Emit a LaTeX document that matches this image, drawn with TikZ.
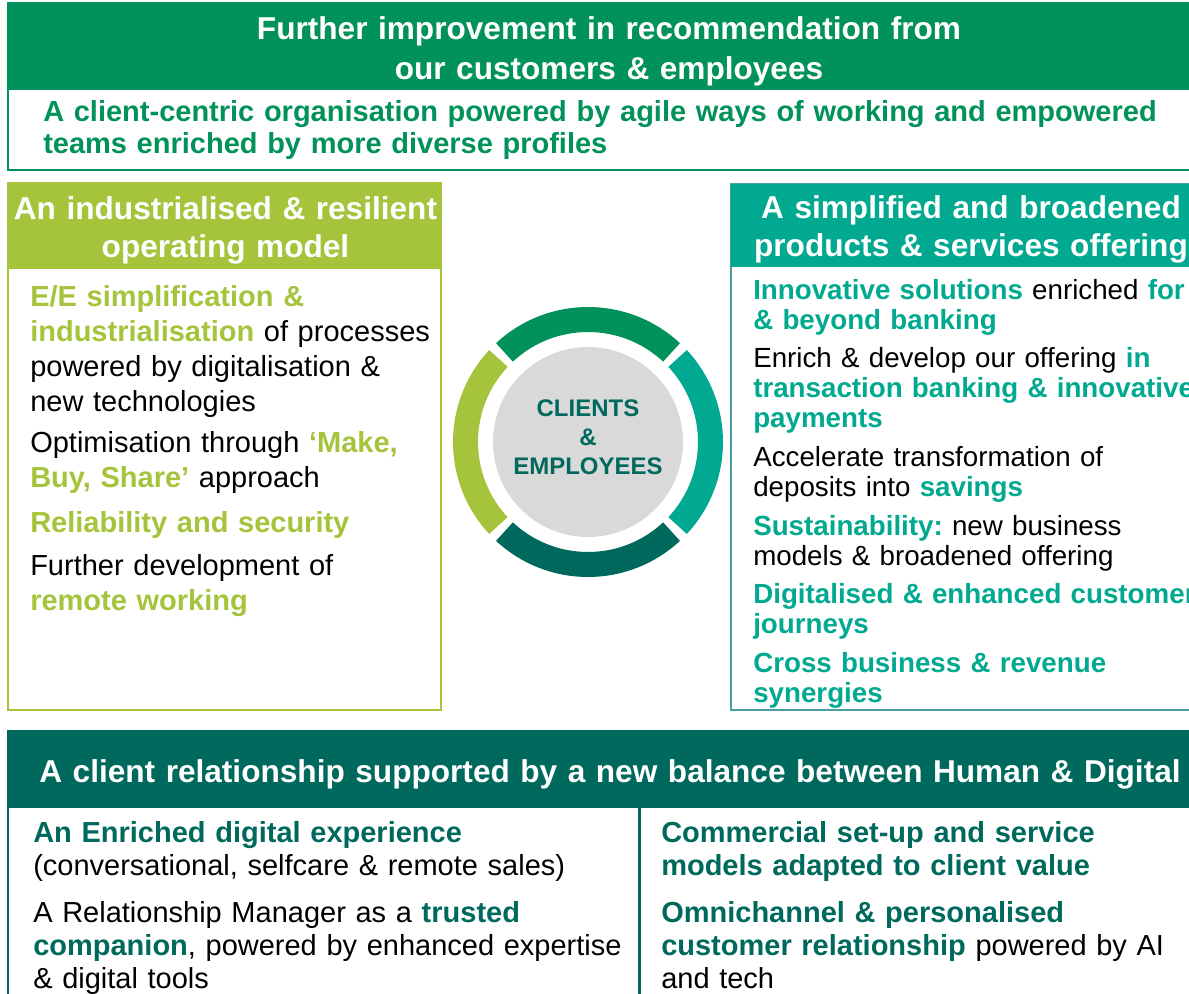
\documentclass[tikz,border=0pt]{standalone}
\usepackage{fontspec}
\setmainfont{Liberation Sans}
\frenchspacing
\definecolor{topgreen}{HTML}{00925A}
\definecolor{limegreen}{HTML}{A5C33B}
\definecolor{offerteal}{HTML}{00A98F}
\definecolor{darkteal}{HTML}{00695D}
\definecolor{frameteal}{HTML}{4A9DA3}
\definecolor{coregrey}{HTML}{D9D9D9}
\newcommand{\limebf}[1]{\textbf{\color{limegreen}#1}}
\newcommand{\tealbf}[1]{\textbf{\color{offerteal}#1}}
\newcommand{\darkbf}[1]{\textbf{\color{darkteal}#1}}
\tikzset{
  headtxt/.style={anchor=base, inner sep=0pt, text width=#1, align=center,
    text=white, font=\bfseries\fontsize{23.7}{28.5}\selectfont},
  bodytxt/.style={anchor=base west, inner sep=0pt, text width=480pt, align=left,
    font=\fontsize{21.75}{26.25}\selectfont},
  offertxt/.style={bodytxt, font=\fontsize{20.8}{22.5}\selectfont},
  relationtxt/.style={bodytxt, font=\fontsize{21.75}{24.75}\selectfont},
}
\begin{document}
\begin{tikzpicture}[x=0.75pt, y=-0.75pt, line join=miter]
  \def\R{122.5}
  \useasboundingbox (0,0) rectangle (1189,993);
  \clip (0,0) rectangle (1189,993);

  % top banner
  \fill[topgreen] (8,3) rectangle (1211,90);
  \draw[topgreen, line width=1.5pt] (8,3) rectangle (1211,170);
  \node[headtxt=900pt, font=\bfseries\fontsize{23.7}{30}\selectfont] (goal) at (609,39.5)
    {Further improvement in recommendation from\\ our customers \& employees};
  \node[bodytxt, text width=900pt, text=topgreen, font=\bfseries\fontsize{21.75}{24}\selectfont]
    (orga) at (43,121.5)
    {A client-centric organisation powered by agile ways of working and empowered\\
     teams enriched by more diverse profiles};

  % operating model
  \draw[limegreen, line width=1.9pt] (8,183) rectangle (441,710);
  \fill[limegreen] (8,183) rectangle (441,269);
  \node[headtxt=330pt] (ophead) at (225.5,219.5)
    {An industrialised \& resilient\\ operating model};
  \node[bodytxt] (op1) at (30,306.5)
    {\limebf{E/E simplification \&}\\ \limebf{industrialisation} of processes\\
     powered by digitalisation \&\\ new technologies};
  \node[bodytxt] (op2) at (30,452.5)
    {Optimisation through \limebf{‘Make,}\\ \limebf{Buy, Share’} approach};
  \node[bodytxt] (op3) at (30,532.5) {\limebf{Reliability and security}};
  \node[bodytxt] (op4) at (30,575.5)
    {Further development of\\ \limebf{remote working}};

  % products and services
  \draw[frameteal, line width=1.5pt] (731,184) rectangle (1211,710);
  \fill[offerteal] (731,184) rectangle (1211,267);
  \node[headtxt=360pt] (ofhead) at (971,218.5)
    {A simplified and broadened\\ products \& services offering};
  \node[offertxt] (of1) at (753,299)
    {\tealbf{Innovative solutions} enriched \tealbf{for}\\ \tealbf{\& beyond banking}};
  \node[offertxt] (of2) at (753,367)
    {Enrich \& develop our offering \tealbf{in}\\
     \tealbf{transaction banking \& innovative}\\ \tealbf{payments}};
  \node[offertxt] (of3) at (753,466)
    {Accelerate transformation of\\ deposits into \tealbf{savings}};
  \node[offertxt] (of4) at (753,535)
    {\tealbf{Sustainability:} new business\\ models \& broadened offering};
  \node[offertxt] (of5) at (753,603)
    {\tealbf{Digitalised \& enhanced customer}\\ \tealbf{journeys}};
  \node[offertxt] (of6) at (753,672)
    {\tealbf{Cross business \& revenue}\\ \tealbf{synergies}};

  % ring
  \coordinate (ring) at (588,442);
  \fill[coregrey] (ring) circle (95);
  \foreach \ang/\col in {270/topgreen, 0/offerteal, 90/darkteal, 180/limegreen}
    \draw[\col, line width=18.75pt] (ring) ++(\ang-43:\R)
      arc[start angle=\ang-43, end angle=\ang+43, radius=\R];
  \node[anchor=base, inner sep=0pt, text width=200pt, align=center, text=darkteal,
    font=\bfseries\fontsize{18}{21.75}\selectfont] (core) at (588,416.6)
    {CLIENTS\\ \&\\ EMPLOYEES};

  % client relationship
  \fill[darkteal] (8,731) rectangle (1211,808);
  \draw[darkteal, line width=1.2pt] (8,731) rectangle (1211,1010);
  \draw[darkteal, line width=2.25pt] (639,808) -- (639,1010);
  \node[headtxt=900pt] (relhead) at (610,782.5)
    {A client relationship supported by a new balance between Human \& Digital};
  \node[relationtxt] (rel1) at (33,842.5)
    {\darkbf{An Enriched digital experience}\\ (conversational, selfcare \& remote sales)};
  \node[relationtxt] (rel2) at (33,922.5)
    {A Relationship Manager as a \darkbf{trusted}\\
     \darkbf{companion}, powered by enhanced expertise\\ \& digital tools};
  \node[relationtxt] (rel3) at (661,842.5)
    {\darkbf{Commercial set-up and service}\\ \darkbf{models adapted to client value}};
  \node[relationtxt] (rel4) at (661,922.5)
    {\darkbf{Omnichannel \& personalised}\\
     \darkbf{customer relationship} powered by AI\\ and tech};
\end{tikzpicture}
\end{document}
